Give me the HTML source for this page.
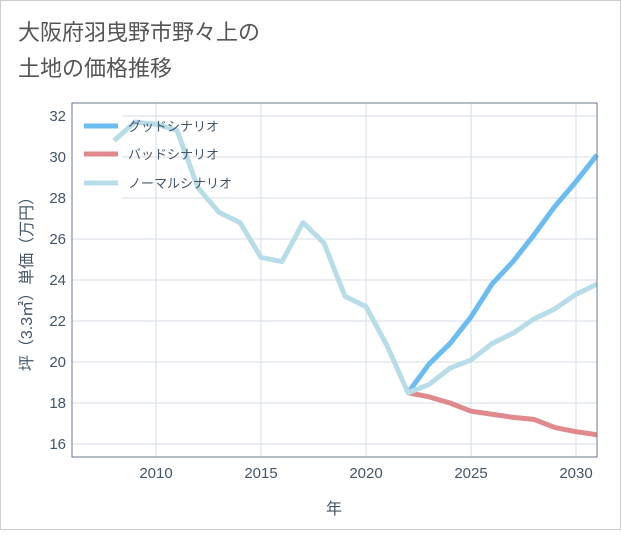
<!DOCTYPE html>
<html><head><meta charset="utf-8"><style>
body{margin:0;background:#fff;}
svg text{font-family:"Liberation Sans","Noto Sans CJK JP",sans-serif;}
</style></head><body>
<svg width="621" height="530" xmlns="http://www.w3.org/2000/svg">
<rect x="0.5" y="0.5" width="620" height="529" fill="#fff" stroke="#ccc"/>
<text x="18" y="40" font-size="22" fill="#555">大阪府羽曳野市野々上の</text>
<text x="18" y="76" font-size="22" fill="#555">土地の価格推移</text>
<g id="grid"></g>
<rect x="73" y="104" width="49" height="96" fill="#fff"/>
<g id="series"></g>
<rect x="72" y="103" width="525" height="354" fill="none" stroke="#6a7a8c" stroke-width="1"/>
<g id="legend">
<line x1="84" y1="126" x2="118" y2="126" stroke="#6bbcf0" stroke-width="5"/>
<text x="128" y="131" font-size="13" fill="#445566">グッドシナリオ</text>
<line x1="84" y1="154" x2="118" y2="154" stroke="#e08a8e" stroke-width="5"/>
<text x="128" y="159" font-size="13" fill="#445566">バッドシナリオ</text>
<line x1="84" y1="183" x2="118" y2="183" stroke="#b8dde9" stroke-width="5"/>
<text x="128" y="188" font-size="13" fill="#445566">ノーマルシナリオ</text>
</g>
<text x="334" y="514" font-size="16" fill="#445566" text-anchor="middle">年</text>
<text transform="translate(32,280) rotate(-90)" font-size="16" fill="#445566" text-anchor="middle">坪（3.3㎡）単価（万円）</text>
</svg>
<script>
const normalYears=[2008,2009,2010,2011,2012,2013,2014,2015,2016,2017,2018,2019,2020,2021,2022,2023,2024,2025,2026,2027,2028,2029,2030,2031];
const normalVals=[30.8,31.7,31.6,31.3,28.5,27.3,26.8,25.1,24.9,26.8,25.8,23.2,22.7,20.8,18.5,18.9,19.7,20.1,20.9,21.4,22.1,22.6,23.3,23.8];
const futureYears=[2022,2023,2024,2025,2026,2027,2028,2029,2030,2031];
const goodVals=[18.5,19.9,20.9,22.2,23.8,24.9,26.2,27.6,28.8,30.1];
const badVals=[18.5,18.3,18.0,17.6,17.45,17.3,17.2,16.8,16.6,16.45];
const xTicks=[2010,2015,2020,2025,2030];
const yTicks=[16,18,20,22,24,26,28,30,32];
const NS="http://www.w3.org/2000/svg";
const xs=y=>72+(y-2006)*21;
const ys=v=>444-(v-16)*20.5;
const grid=document.getElementById('grid');
xTicks.forEach(t=>{
 const l=document.createElementNS(NS,'line');
 l.setAttribute('x1',xs(t));l.setAttribute('x2',xs(t));l.setAttribute('y1',103);l.setAttribute('y2',457);
 l.setAttribute('stroke','#d5dde6');
 
 
 grid.appendChild(l);
 const tx=document.createElementNS(NS,'text');
 tx.setAttribute('x',xs(t));tx.setAttribute('y',478);tx.setAttribute('font-size','15');tx.setAttribute('fill','#445566');tx.setAttribute('text-anchor','middle');
 tx.textContent=t;
 
 
 grid.appendChild(tx);
});
yTicks.forEach(t=>{
 const l=document.createElementNS(NS,'line');
 l.setAttribute('x1',72);l.setAttribute('x2',597);l.setAttribute('y1',ys(t));l.setAttribute('y2',ys(t));
 l.setAttribute('stroke','#d5dde6');
 
 
 grid.appendChild(l);
 const tx=document.createElementNS(NS,'text');
 tx.setAttribute('x',66);tx.setAttribute('y',ys(t)+5);tx.setAttribute('font-size','15');tx.setAttribute('fill','#445566');tx.setAttribute('text-anchor','end');
 tx.textContent=t;
 
 
 grid.appendChild(tx);
});
const sg=document.getElementById('series');
function line(years,vals,color,name){
 const p=document.createElementNS(NS,'polyline');
 p.setAttribute('points',years.map((y,i)=>xs(y)+','+ys(vals[i])).join(' '));
 p.setAttribute('fill','none');p.setAttribute('stroke',color);p.setAttribute('stroke-width','5');p.setAttribute('stroke-linejoin','round');
 
 
 sg.appendChild(p);
}
line(futureYears,badVals,'#e08a8e','bad-scenario-line');
line(futureYears,goodVals,'#6bbcf0','good-scenario-line');
line(normalYears,normalVals,'#b8dde9','normal-scenario-line');
</script>
</body></html>
